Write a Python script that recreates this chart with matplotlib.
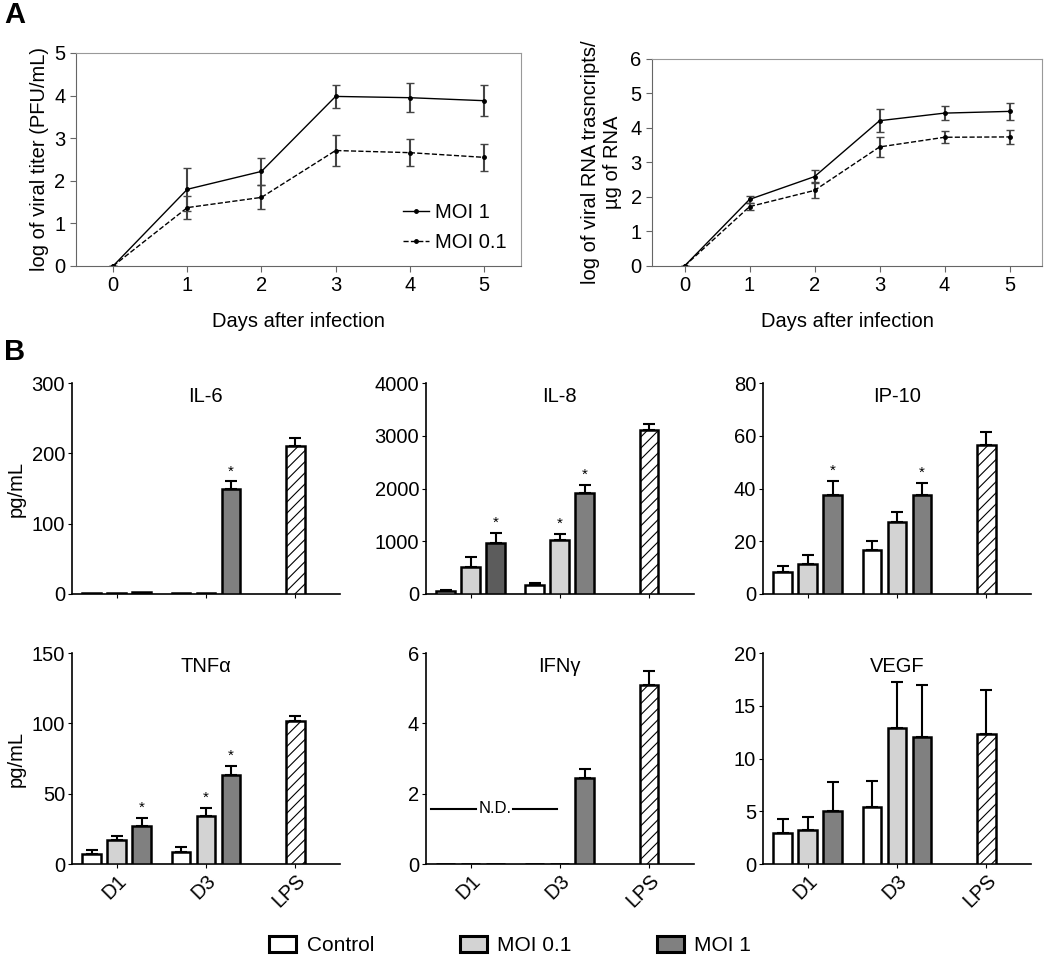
import matplotlib
matplotlib.use("Agg")
import matplotlib.pyplot as plt
from matplotlib.patches import Patch
from matplotlib.lines import Line2D
import numpy as np

plt.rcParams['font.family'] = ['Liberation Sans', 'DejaVu Sans']
plt.rcParams['hatch.linewidth'] = 0.8
plt.rcParams['hatch.color'] = '#333333'

# --- Panel A: viral growth ---
days = [0, 1, 2, 3, 4, 5]
titer_moi1 = [0, 1.80, 2.22, 3.98, 3.95, 3.88]
titer_moi1_err = [0, 0.50, 0.31, 0.27, 0.34, 0.37]
titer_moi01 = [0, 1.37, 1.61, 2.71, 2.66, 2.55]
titer_moi01_err = [0, 0.27, 0.28, 0.36, 0.32, 0.32]

rna_moi1 = [0, 1.93, 2.59, 4.21, 4.43, 4.48]
rna_moi1_err = [0, 0.10, 0.18, 0.33, 0.20, 0.24]
rna_moi01 = [0, 1.72, 2.19, 3.45, 3.73, 3.74]
rna_moi01_err = [0, 0.10, 0.23, 0.29, 0.18, 0.21]

# --- Panel B: cytokines (D1, D3 per group) ---
cytokines = ["IL-6", "IL-8", "IP-10", "TNFα", "IFNγ", "VEGF"]
groups = ["D1", "D3", "LPS"]
control_mean = [[1, 1], [50, 171], [8.5, 16.5], [7.4, 8.3], [0, 0], [2.9, 5.4]]
control_err = [[0, 0], [30, 35], [2.0, 3.6], [2.4, 3.6], [0, 0], [1.4, 2.5]]
moi01_mean = [[1, 2], [506, 1032], [11.3, 27.2], [17.4, 34.0], [0, 0], [3.2, 12.9]]
moi01_err = [[0, 0], [200, 100], [3.4, 4.0], [2.8, 5.7], [0, 0], [1.3, 4.4]]
moi1_mean = [[3, 150], [962, 1924], [37.7, 37.7], [27.3, 63.0], [0, 2.45], [5.0, 12.0]]
moi1_err = [[0, 10], [200, 150], [5.0, 4.5], [5.5, 6.6], [0, 0.24], [2.8, 5.0]]
lps_mean = [211, 3101, 56.5, 101.5, 5.08, 12.3]
lps_err = [11, 130, 4.8, 3.8, 0.40, 4.2]
# significance stars: (series index 0=control 1=MOI0.1 2=MOI1, group index)
stars = [[(2, 1)], [(2, 0), (1, 1), (2, 1)], [(2, 0), (2, 1)],
         [(2, 0), (1, 1), (2, 1)], [], []]
y_max = [300, 4000, 80, 150, 6, 20]
y_step = [100, 1000, 20, 50, 2, 5]
nd_level = 1.57  # IFNγ not detected line

series_colors = ['white', '#d3d3d3', '#808080']
series_names = ['Control', 'MOI 0.1', 'MOI 1']

FS = 14.5
fig = plt.figure(figsize=(10.5, 9.63), dpi=100)


def style_line_axes(ax, ymax):
    ax.set_xlim(-0.5, 5.5)
    ax.set_ylim(0, ymax)
    ax.set_xticks(days)
    ax.set_yticks(range(0, ymax + 1))
    for s in ['top', 'right']:
        ax.spines[s].set_color('#999999')
    for s in ['left', 'bottom']:
        ax.spines[s].set_color('#666666')
    ax.tick_params(labelsize=FS, length=4, color='#666666')
    ax.set_xlabel("Days after infection", fontsize=FS, labelpad=12)


# A left
ax1 = fig.add_axes([0.0724, 0.7238, 0.4238, 0.2212])
ax1.errorbar(days, titer_moi1, yerr=titer_moi1_err, color='black', lw=1.0,
             marker='o', ms=2.5, ecolor='#444444', elinewidth=1.5, capsize=3)
ax1.errorbar(days, titer_moi01, yerr=titer_moi01_err, color='black', lw=1.0, ls='--',
             marker='o', ms=2.5, ecolor='#444444', elinewidth=1.5, capsize=3)
style_line_axes(ax1, 5)
ax1.set_ylabel("log of viral titer (PFU/mL)", fontsize=FS)
line_handles = [Line2D([], [], color='black', lw=1.0, marker='o', ms=2.5),
                Line2D([], [], color='black', lw=1.0, ls='--', marker='o', ms=2.5)]
ax1.legend(line_handles, ['MOI 1', 'MOI 0.1'], loc='lower right', frameon=False,
           fontsize=FS, handlelength=1.3, handletextpad=0.3, labelspacing=0.55,
           borderaxespad=0.3)

# A right
ax2 = fig.add_axes([0.621, 0.7238, 0.3714, 0.215])
ax2.errorbar(days, rna_moi1, yerr=rna_moi1_err, color='black', lw=1.0,
             marker='o', ms=2.5, ecolor='#444444', elinewidth=1.5, capsize=3)
ax2.errorbar(days, rna_moi01, yerr=rna_moi01_err, color='black', lw=1.0, ls='--',
             marker='o', ms=2.5, ecolor='#444444', elinewidth=1.5, capsize=3)
style_line_axes(ax2, 6)
ax2.set_ylabel("log of viral RNA trasncripts/\nµg of RNA", fontsize=FS, labelpad=6)

# B bars
bar_w = 0.21
offsets = [-0.28, 0, 0.28]
lefts = [0.0686, 0.4057, 0.7267]
bottoms = [0.3832, 0.1028]
for i, name in enumerate(cytokines):
    row, col = divmod(i, 3)
    ax = fig.add_axes([lefts[col], bottoms[row], 0.255, 0.219])
    means = [control_mean[i], moi01_mean[i], moi1_mean[i]]
    errs = [control_err[i], moi01_err[i], moi1_err[i]]
    for k in range(3):
        xs = np.arange(2) + offsets[k]
        bars = ax.bar(xs, means[k], bar_w, color=series_colors[k], edgecolor='black',
                      linewidth=1.8, zorder=3)
        if name == "IL-8" and k == 2:
            bars[0].set_facecolor('#5c5c5c')  # darker in the original figure
        for x, m, e in zip(xs, means[k], errs[k]):
            if e > 0:
                ax.errorbar(x, m, yerr=[[0], [e]], color='black', elinewidth=1.5,
                            capsize=4, capthick=1.5, zorder=2)
    ax.bar(2, lps_mean[i], bar_w, color='white', edgecolor='black', hatch='///',
           linewidth=1.8, zorder=3)
    ax.errorbar(2, lps_mean[i], yerr=[[0], [lps_err[i]]], color='black',
                elinewidth=1.5, capsize=4, capthick=1.5, zorder=2)
    for k, g in stars[i]:
        top = means[k][g] + errs[k][g]
        ax.text(g + offsets[k], top + y_max[i] * 0.015, '*', ha='center',
                va='bottom', fontsize=11)
    if name == "IFNγ":
        ax.plot([-0.44, 0.06], [nd_level, nd_level], color='black', lw=1.5)
        ax.plot([0.48, 0.97], [nd_level, nd_level], color='black', lw=1.5)
        ax.text(0.27, nd_level, 'N.D.', ha='center', va='center', fontsize=12)
    ax.set_xlim(-0.5, 2.5)
    ax.set_ylim(0, y_max[i])
    ax.set_yticks(np.arange(0, y_max[i] + 1, y_step[i]))
    ax.set_xticks(range(3))
    ax.spines['top'].set_visible(False)
    ax.spines['right'].set_visible(False)
    ax.spines['left'].set_linewidth(1.2)
    ax.spines['bottom'].set_linewidth(1.2)
    ax.tick_params(labelsize=FS, length=3, pad=2)
    ax.set_title(name, fontsize=FS, y=0.87)
    if row == 1:
        ax.set_xticklabels(groups, rotation=45, ha='right', rotation_mode='anchor')
    else:
        ax.set_xticklabels([])
    if col == 0:
        ax.set_ylabel("pg/mL", fontsize=FS)

handles = [Patch(facecolor=c, edgecolor='black', linewidth=2.2) for c in series_colors]
fig.legend(handles, series_names, loc='center', bbox_to_anchor=(0.486, 0.018), ncol=3,
           frameon=False, fontsize=15, handlelength=1.3, handleheight=0.8,
           handletextpad=0.5, columnspacing=4.1)

fig.text(0.004, 0.984, 'A', fontsize=21, fontweight='bold', va='center')
fig.text(0.004, 0.634, 'B', fontsize=21, fontweight='bold', va='center')

fig.savefig('out.png', dpi=100)
